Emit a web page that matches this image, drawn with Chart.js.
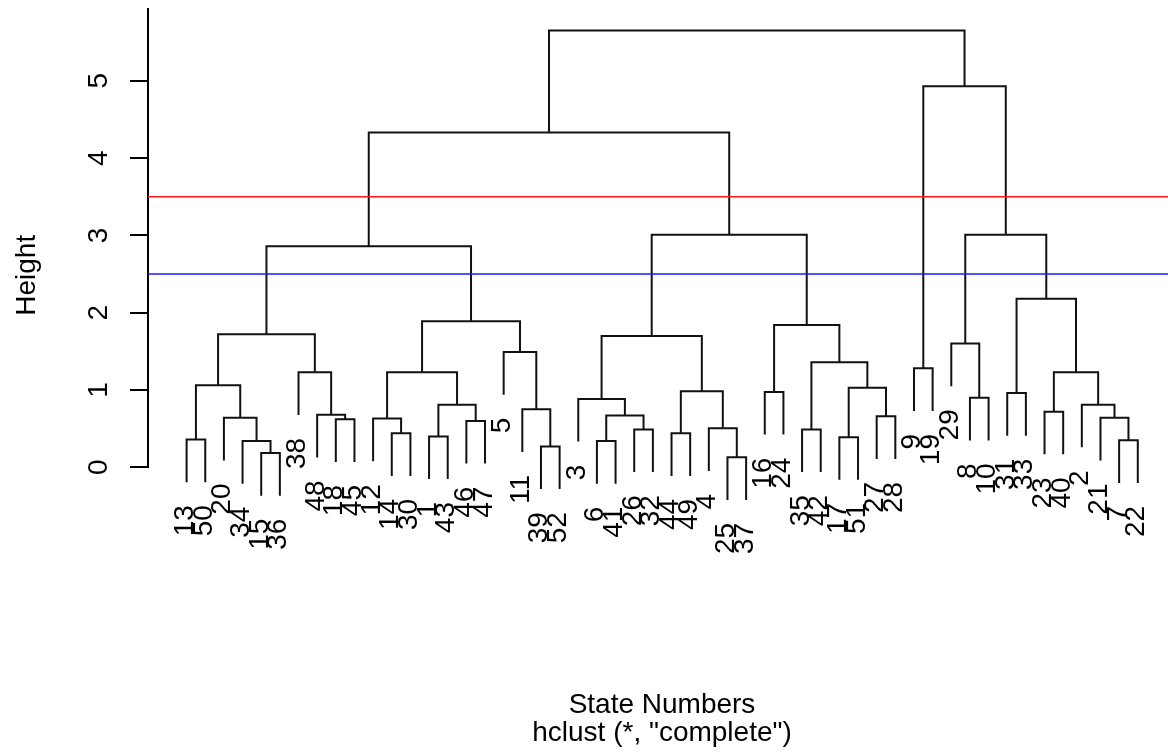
<!DOCTYPE html>
<html><head><meta charset="utf-8">
<script src="https://cdn.jsdelivr.net/npm/chart.js@4/dist/chart.umd.min.js"></script>
<style>html,body{margin:0;padding:0;background:#fff;overflow:hidden}#wrap{width:1168px;height:754px;position:relative}</style>
</head><body><div id="wrap"><canvas id="c"></canvas></div>
<script>
// Leaf order (state numbers) as drawn left to right
const leafLabels = [13,50,20,34,15,36,38,48,18,45,12,14,30,1,43,46,47,5,11,39,52,3,6,41,26,32,44,49,4,25,37,16,24,35,42,17,51,27,28,9,19,29,8,10,31,33,23,40,2,21,7,22];
// Merge table (R style): negative = leaf (state number), positive = earlier merge (1-based)
const mergeLeft  = [-25,-15,-39,-13,-34,-6,-7,-17,-1,-14,-44,-26,-35,-4,-46,-18,-12,-20,-21,-27,6,-48,-23,-11,9,-2,-3,-8,-31,-16,11,8,4,-38,17,23,-9,13,-5,-29,27,33,30,35,29,42,41,40,46,37,49];
const mergeRight = [-37,-36,-52,-50,2,-41,-22,-51,-43,-30,-49,-32,-42,1,-47,-45,10,5,7,-28,12,16,-40,3,15,19,21,-10,-33,-24,14,20,18,22,25,26,-19,32,24,28,31,34,38,39,36,44,43,45,47,48,50];
const mergeHeight = [0.13,0.185,0.27,0.36,0.34,0.34,0.35,0.39,0.40,0.44,0.44,0.49,0.49,0.505,0.60,0.62,0.63,0.64,0.64,0.66,0.67,0.68,0.72,0.75,0.81,0.81,0.885,0.90,0.96,0.975,0.985,1.03,1.06,1.23,1.23,1.23,1.28,1.36,1.49,1.60,1.70,1.72,1.84,1.89,2.18,2.86,3.01,3.01,4.33,4.93,5.65];
const tickValues = [0,1,2,3,4,5];
const cutHeights = [3.5, 2.5];
const cutColors = ['#ff1a1a', '#1a1aff'];
const yLabel = 'Height';
const xTitle = 'State Numbers';
const subTitle = 'hclust (*, "complete")';

// ---- derive geometry in data space ----
const hang = 0.1 * (Math.max(...mergeHeight) - Math.min(...mergeHeight));
const leafPos = {};
leafLabels.forEach((l, i) => { leafPos[l] = i + 1; });
const mergePos = [];
const leafBottom = {};
const treeSets = [];
for (let m = 0; m < mergeHeight.length; m++) {
  const h = mergeHeight[m];
  const child = c => {
    if (c < 0) { leafBottom[-c] = h - hang; return { x: leafPos[-c], y: h - hang }; }
    return { x: mergePos[c - 1], y: mergeHeight[c - 1] };
  };
  const a = child(mergeLeft[m]), b = child(mergeRight[m]);
  mergePos.push((a.x + b.x) / 2);
  treeSets.push({
    data: [{x: a.x, y: a.y}, {x: a.x, y: h}, {x: b.x, y: h}, {x: b.x, y: b.y}],
    showLine: true, borderColor: '#111', borderWidth: 2, pointRadius: 0,
    fill: false, tension: 0, clip: false, borderJoinStyle: 'miter', borderCapStyle: 'butt'
  });
}
const X_MIN = -1.07, X_MAX = 53.62, Y_MAX = 5.925;
const cutSets = cutHeights.map((h, i) => ({
  data: [{x: X_MIN, y: h}, {x: X_MAX, y: h}],
  showLine: true, borderColor: cutColors[i], borderWidth: 1.6, pointRadius: 0, clip: false
}));

const FONT = '"Liberation Sans", Arial, Helvetica, sans-serif';
const textPlugin = {
  id: 'dendroText',
  afterDraw(chart) {
    const ctx = chart.ctx, xs = chart.scales.x, ys = chart.scales.y;
    ctx.save();
    ctx.fillStyle = '#000';
    ctx.font = '28px ' + FONT;
    // leaf labels
    leafLabels.forEach(l => {
      const px = xs.getPixelForValue(leafPos[l]);
      const py = ys.getPixelForValue(leafBottom[l]);
      ctx.save();
      ctx.translate(px + 6.5, py + 23);
      ctx.rotate(-Math.PI / 2);
      ctx.textAlign = 'right';
      ctx.textBaseline = 'alphabetic';
      ctx.fillText(String(l), 0, 0);
      ctx.restore();
    });
    // y tick labels
    tickValues.forEach(v => {
      const py = ys.getPixelForValue(v);
      ctx.save();
      ctx.translate(107, py);
      ctx.rotate(-Math.PI / 2);
      ctx.textAlign = 'center';
      ctx.textBaseline = 'alphabetic';
      ctx.fillText(String(v), 0, 0);
      ctx.restore();
    });
    // y axis title
    ctx.save();
    ctx.translate(35, (ys.getPixelForValue(0) + ys.getPixelForValue(Y_MAX)) / 2 + 37);
    ctx.rotate(-Math.PI / 2);
    ctx.textAlign = 'center';
    ctx.textBaseline = 'alphabetic';
    ctx.fillText(yLabel, 0, 0);
    ctx.restore();
    // bottom titles
    const cx = 662;
    ctx.textAlign = 'center';
    ctx.textBaseline = 'alphabetic';
    ctx.fillText(xTitle, cx, 713);
    ctx.fillText(subTitle, cx, 741);
    ctx.restore();
  }
};

new Chart(document.getElementById('c'), {
  type: 'scatter',
  data: { datasets: [...cutSets, ...treeSets] },
  options: {
    responsive: true, maintainAspectRatio: false, animation: false, devicePixelRatio: 1,
    layout: { padding: { top: 9.3, bottom: 754 - 467.3, left: 0, right: 0 } },
    plugins: { legend: { display: false }, tooltip: { enabled: false }, title: { display: false } },
    events: [],
    scales: {
      x: { type: 'linear', min: X_MIN, max: X_MAX, display: false },
      y: {
        type: 'linear', min: 0, max: Y_MAX,
        afterBuildTicks: s => { s.ticks = tickValues.map(v => ({ value: v })); },
        afterFit: s => { s.width = 148; },
        ticks: { display: false },
        grid: { drawOnChartArea: false, drawTicks: true, tickLength: 18, color: '#000', lineWidth: 2 },
        border: { display: true, color: '#000', width: 2 }
      }
    }
  },
  plugins: [textPlugin]
});
</script></body></html>
